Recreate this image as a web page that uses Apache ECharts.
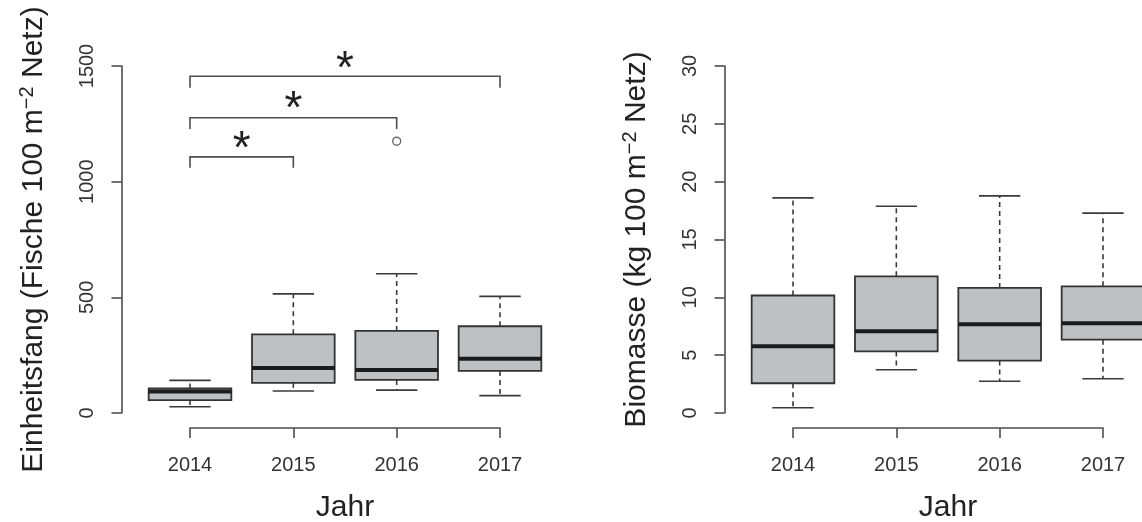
<!DOCTYPE html>
<html><head><meta charset="utf-8">
<script src="https://cdn.jsdelivr.net/npm/echarts@6/dist/echarts.min.js"></script>
<style>html,body{margin:0;padding:0;background:#fff}#c{width:1142px;height:522px}</style>
</head><body><div id="c"></div>
<script>
const years = ['2014', '2015', '2016', '2017'];
// box stats per year: [whiskerLow, Q1, median, Q3, whiskerHigh]
const catchLow = [27, 95, 99, 75];
const catchQ1 = [56, 130, 143, 182];
const catchMed = [93, 194, 186, 234];
const catchQ3 = [106, 340, 355, 375];
const catchHigh = [141, 515, 602, 504];
const catchOutlierYear = ['2016'];
const catchOutlierValue = [1175];
const bioLow = [0.45, 3.74, 2.74, 2.96];
const bioQ1 = [2.57, 5.32, 4.53, 6.34];
const bioMed = [5.77, 7.07, 7.68, 7.77];
const bioQ3 = [10.16, 11.82, 10.81, 10.95];
const bioHigh = [18.6, 17.88, 18.77, 17.28];
const catchTicks = [0, 500, 1000, 1500];
const bioTicks = [0, 5, 10, 15, 20, 25, 30];
// significance brackets: from year, to year, bar level, tip level, star level
const brFrom = ['2014', '2014', '2014'];
const brTo = ['2017', '2016', '2015'];
const brBar = [1456, 1276, 1107];
const brTip = [1406, 1228, 1060];
const brStar = [1531, 1355, 1182];
const brLabel = ['*', '*', '*'];

const FONT = "'Liberation Sans', Arial, Helvetica, sans-serif";
const AX = '#4d4d4d';

function boxData(lo, q1, md, q3, hi) {
  return years.map((y, i) => [i, lo[i], q1[i], md[i], q3[i], hi[i]]);
}
function renderBox(params, api) {
  const i = api.value(0);
  const w = api.size([1, 0])[0] * 0.8;
  const x = api.coord([i, 0])[0];
  const yLo = api.coord([i, api.value(1)])[1];
  const yQ1 = api.coord([i, api.value(2)])[1];
  const yMd = api.coord([i, api.value(3)])[1];
  const yQ3 = api.coord([i, api.value(4)])[1];
  const yHi = api.coord([i, api.value(5)])[1];
  const dash = {stroke: '#3a3a3a', lineWidth: 1.6, lineDash: [5, 4]};
  const solid = {stroke: '#3a3a3a', lineWidth: 1.6};
  return {type: 'group', children: [
    {type: 'line', shape: {x1: x, y1: yQ3, x2: x, y2: yHi}, style: dash},
    {type: 'line', shape: {x1: x, y1: yQ1, x2: x, y2: yLo}, style: dash},
    {type: 'line', shape: {x1: x - w / 4, y1: yHi, x2: x + w / 4, y2: yHi}, style: solid},
    {type: 'line', shape: {x1: x - w / 4, y1: yLo, x2: x + w / 4, y2: yLo}, style: solid},
    {type: 'rect', shape: {x: x - w / 2, y: yQ3, width: w, height: yQ1 - yQ3}, style: {fill: '#bfc0c2', stroke: '#333', lineWidth: 1.8}},
    {type: 'line', shape: {x1: x - w / 2, y1: yMd, x2: x + w / 2, y2: yMd}, style: {stroke: '#1c1c1c', lineWidth: 4}}
  ]};
}
function renderBracket(params, api) {
  const a = api.coord([api.value(0), api.value(2)]);
  const b = api.coord([api.value(1), api.value(2)]);
  const tip = api.coord([api.value(0), api.value(3)])[1];
  const star = api.coord([api.value(0), api.value(4)])[1];
  return {type: 'group', children: [
    {type: 'polyline', shape: {points: [[a[0], tip], [a[0], a[1]], [b[0], b[1]], [b[0], tip]]}, style: {stroke: '#4d4d4d', lineWidth: 1.6, fill: null}},
    {type: 'text', style: {text: brLabel[params.dataIndex], x: (a[0] + b[0]) / 2, y: star + 11, font: '46px ' + FONT, textAlign: 'center', textVerticalAlign: 'middle', fill: '#222'}}
  ]};
}

function xAx(gi) {
  return {gridIndex: gi, type: 'category', data: years, boundaryGap: false, offset: 15,
    axisLine: {onZero: false, lineStyle: {color: AX, width: 1.6}},
    axisTick: {length: 10, lineStyle: {color: AX, width: 1.6}},
    axisLabel: {interval: 0, fontSize: 20, color: '#333', margin: 27, fontFamily: FONT},
    splitLine: {show: false},
    name: 'Jahr', nameLocation: 'middle', nameGap: 65,
    nameTextStyle: {fontSize: 30, color: '#222', fontFamily: FONT}};
}
function yAx(gi, ticks, name) {
  return {gridIndex: gi, type: 'value', min: ticks[0], max: ticks[ticks.length - 1],
    interval: ticks[1] - ticks[0], offset: 68.5,
    axisLine: {show: true, onZero: false, lineStyle: {color: AX, width: 1.6}},
    axisTick: {show: true, length: 10, lineStyle: {color: AX, width: 1.6}},
    axisLabel: {rotate: 90, fontSize: 20, color: '#333', margin: 24, fontFamily: FONT,
      formatter: v => String(v)},
    splitLine: {show: false},
    name: name, nameLocation: 'middle', nameGap: 72, nameMoveOverlap: false,
    nameTextStyle: {fontSize: 30, color: '#222', fontFamily: FONT,
      rich: {a: {fontSize: 30, color: '#222', fontFamily: FONT},
             s: {fontSize: 20, color: '#222', fontFamily: FONT, verticalAlign: 'top', lineHeight: 32}}}};
}

const chart = echarts.init(document.getElementById('c'), null, {renderer: 'canvas'});
chart.setOption({
  animation: false,
  backgroundColor: '#fff',
  textStyle: {fontFamily: FONT},
  grid: [
    {left: 190, right: 642, top: 66, bottom: 109, outerBoundsMode: 'none'},
    {left: 793, right: 39, top: 66, bottom: 109, outerBoundsMode: 'none'}
  ],
  xAxis: [xAx(0), xAx(1)],
  yAxis: [
    yAx(0, catchTicks, '{a|Einheitsfang (Fische 100 m}{s|−2}{a| Netz)}'),
    yAx(1, bioTicks, '{a|Biomasse (kg 100 m}{s|−2}{a| Netz)}')
  ],
  series: [
    {type: 'custom', xAxisIndex: 0, yAxisIndex: 0, renderItem: renderBox, clip: false,
      encode: {x: 0, y: [1, 2, 3, 4, 5]}, data: boxData(catchLow, catchQ1, catchMed, catchQ3, catchHigh)},
    {type: 'scatter', xAxisIndex: 0, yAxisIndex: 0, symbol: 'circle', symbolSize: 8,
      itemStyle: {color: '#fff', borderColor: '#444', borderWidth: 1.4},
      data: catchOutlierYear.map((y, i) => [years.indexOf(y), catchOutlierValue[i]])},
    {type: 'custom', xAxisIndex: 0, yAxisIndex: 0, renderItem: renderBracket, clip: false,
      encode: {x: [0, 1], y: [2, 3, 4]},
      data: brFrom.map((f, i) => [years.indexOf(f), years.indexOf(brTo[i]), brBar[i], brTip[i], brStar[i]])},
    {type: 'custom', xAxisIndex: 1, yAxisIndex: 1, renderItem: renderBox, clip: false,
      encode: {x: 0, y: [1, 2, 3, 4, 5]}, data: boxData(bioLow, bioQ1, bioMed, bioQ3, bioHigh)}
  ]
});
</script></body></html>
